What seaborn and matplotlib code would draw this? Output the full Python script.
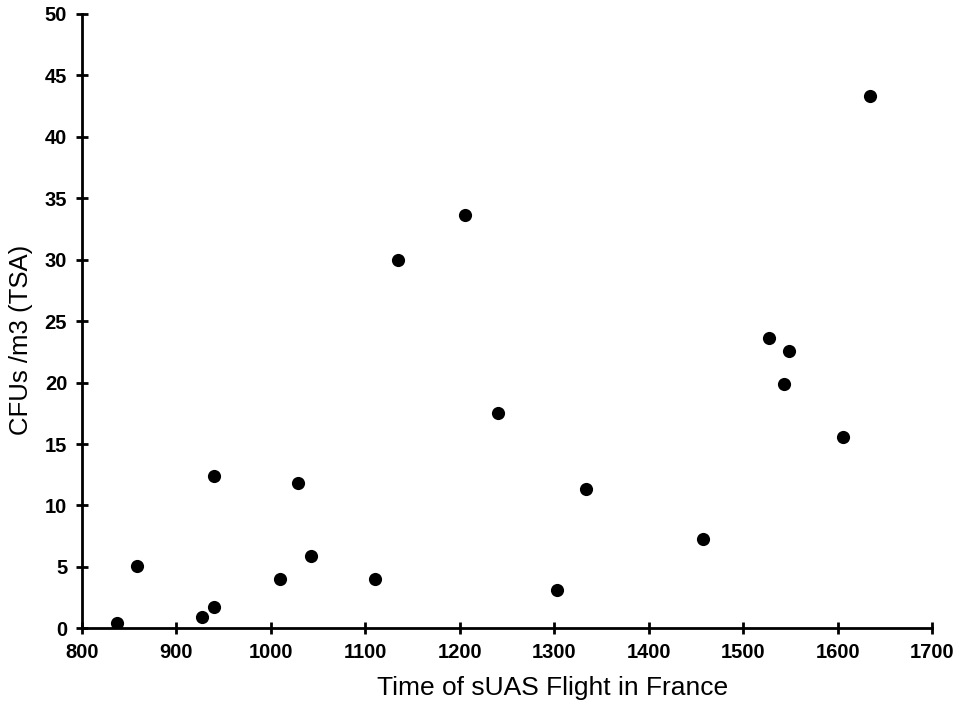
import pandas as pd
import matplotlib
matplotlib.use("Agg")
import matplotlib.pyplot as plt
import seaborn as sns

# data
flight_time = [837, 858, 927, 940, 940, 1010, 1029, 1043, 1110, 1135,
               1206, 1240, 1303, 1334, 1457, 1527, 1543, 1548, 1606, 1634]
cfu_tsa = [0.4, 5.1, 0.9, 1.7, 12.4, 4.0, 11.8, 5.9, 4.0, 30.0,
           33.6, 17.5, 3.1, 11.3, 7.3, 23.6, 19.9, 22.6, 15.6, 43.3]
x_ticks = [800, 900, 1000, 1100, 1200, 1300, 1400, 1500, 1600, 1700]
y_ticks = [0, 5, 10, 15, 20, 25, 30, 35, 40, 45, 50]

df = pd.DataFrame({"time": flight_time, "cfu": cfu_tsa})

sns.set_style("white")
plt.rcParams["font.family"] = ["Liberation Sans", "DejaVu Sans"]
plt.rcParams["text.color"] = "black"
plt.rcParams["axes.labelcolor"] = "black"

fig = plt.figure(figsize=(9.64, 7.07), dpi=100)
ax = fig.add_axes([0.0848, 0.1113, 0.8823, 0.8689])

sns.scatterplot(data=df, x="time", y="cfu", color="black", s=90,
                edgecolor="black", linewidth=0, ax=ax)

ax.set_xlim(800, 1700)
ax.set_ylim(0, 50)
ax.set_xticks(x_ticks)
ax.set_yticks(y_ticks)
ax.set_xticklabels([str(t) for t in x_ticks], fontsize=14.5, fontweight="bold")
ax.set_yticklabels([str(t) for t in y_ticks], fontsize=14.5, fontweight="bold")
ax.tick_params(bottom=True, left=True, direction="inout", length=9, width=2,
               color="black", labelcolor="black", pad=6)

sns.despine(ax=ax)
for side in ["left", "bottom"]:
    ax.spines[side].set_linewidth(2)
    ax.spines[side].set_color("black")

# labels sit off-centre in the reference
ax.set_xlabel("Time of sUAS Flight in France", fontsize=19)
ax.set_ylabel("CFUs /m3 (TSA)", fontsize=18.5)
ax.xaxis.set_label_coords(0.553, -0.078)
ax.yaxis.set_label_coords(-0.057, 0.469)

fig.savefig("out.png", dpi=100)
